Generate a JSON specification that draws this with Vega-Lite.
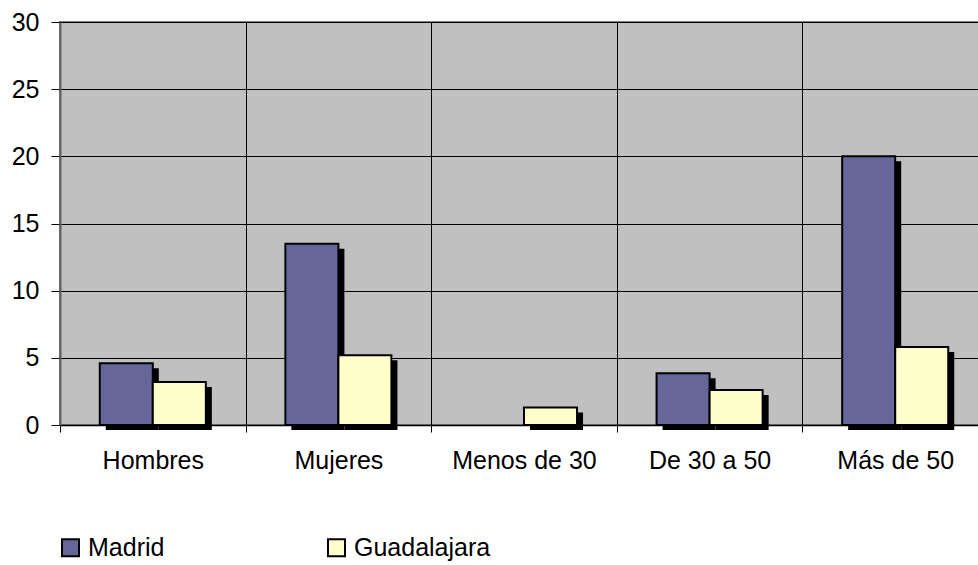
{
  "$schema": "https://vega.github.io/schema/vega-lite/v6.json",
  "width": 928,
  "height": 403,
  "autosize": {"type": "none"},
  "padding": {"left": 60, "top": 22, "right": 0, "bottom": 140},
  "background": "white",
  "config": {
    "view": {"fill": "#C0C0C0", "stroke": "#808080", "strokeWidth": 2},
    "font": "Liberation Sans",
    "axis": {"labelFont": "Liberation Sans", "labelFontSize": 25, "labelColor": "black", "tickColor": "black", "gridColor": "black", "gridOpacity": 1, "gridWidth": 1},
    "legend": {"labelFont": "Liberation Sans", "labelFontSize": 25, "labelColor": "black"}
  },
  "data": {
    "values": [
      {"cat": "Hombres", "city": "Madrid", "value": 4.6},
      {"cat": "Hombres", "city": "Guadalajara", "value": 3.2},
      {"cat": "Mujeres", "city": "Madrid", "value": 13.5},
      {"cat": "Mujeres", "city": "Guadalajara", "value": 5.2},
      {"cat": "Menos de 30", "city": "Madrid", "value": 0},
      {"cat": "Menos de 30", "city": "Guadalajara", "value": 1.3},
      {"cat": "De 30 a 50", "city": "Madrid", "value": 3.85},
      {"cat": "De 30 a 50", "city": "Guadalajara", "value": 2.6},
      {"cat": "Más de 50", "city": "Madrid", "value": 20},
      {"cat": "Más de 50", "city": "Guadalajara", "value": 5.8}
    ]
  },
  "encoding": {
    "x": {
      "field": "cat", "type": "nominal", "sort": null, "title": null,
      "scale": {"domain": ["Hombres", "Mujeres", "Menos de 30", "De 30 a 50", "Más de 50"], "paddingInner": 0, "paddingOuter": 0},
      "axis": {"labelAngle": 0, "bandPosition": 0, "grid": true, "tickBand": "extent", "ticks": true, "tickSize": 7, "labelPadding": 16, "domainColor": "black", "domainWidth": 1.5, "labelBaseline": "top"}
    },
    "y": {
      "field": "value", "type": "quantitative", "title": null,
      "scale": {"domain": [0, 30], "nice": false},
      "axis": {"values": [0, 5, 10, 15, 20, 25, 30], "tickSize": 9, "labelPadding": 12, "domainColor": "#606060", "domainWidth": 2, "grid": true}
    }
  },
  "layer": [
    {
      "transform": [{"filter": "datum.value > 0"}],
      "mark": {"type": "bar", "color": "black", "yOffset": 5, "y2Offset": -5},
      "encoding": {
        "xOffset": {
          "field": "city", "type": "nominal",
          "scale": {"domain": ["Madrid", "Guadalajara"], "paddingInner": 0, "paddingOuter": 0.75, "range": [6, 191.6]}
        }
      }
    },
    {
      "transform": [{"filter": "datum.value > 0"}],
      "mark": {"type": "bar", "stroke": "black", "strokeWidth": 2},
      "encoding": {
        "xOffset": {
          "field": "city", "type": "nominal",
          "scale": {"domain": ["Madrid", "Guadalajara"], "paddingInner": 0, "paddingOuter": 0.75, "range": [0, 185.6]}
        },
        "color": {
          "field": "city", "type": "nominal",
          "scale": {"domain": ["Madrid", "Guadalajara"], "range": ["#666699", "#FFFFCC"]},
          "legend": {
            "title": null, "orient": "none", "legendX": -2, "legendY": 513,
            "direction": "horizontal", "columns": 2, "columnPadding": 159,
            "symbolType": "square", "symbolSize": 289, "symbolStrokeColor": "black", "symbolStrokeWidth": 2,
            "symbolOpacity": 1, "labelOffset": 5
          }
        }
      }
    }
  ],
  "resolve": {"scale": {"xOffset": "independent"}}
}
